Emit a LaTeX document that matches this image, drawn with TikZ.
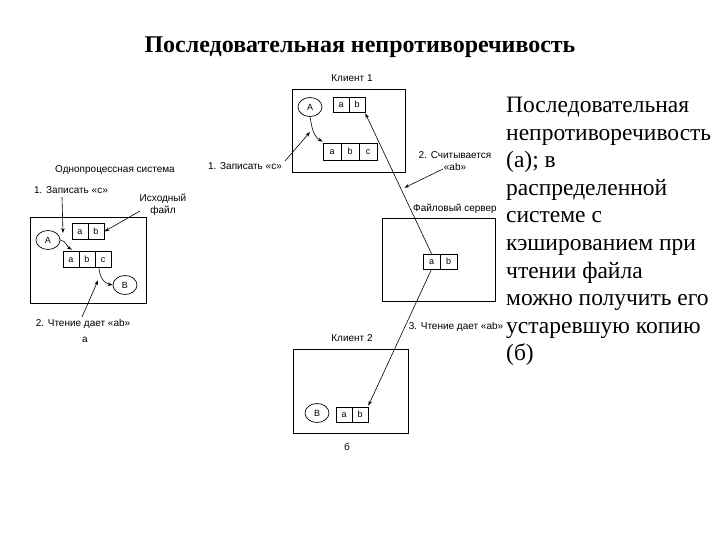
\documentclass[tikz,border=0pt]{standalone}
\usepackage{fontspec}
\setmainfont{Liberation Serif}
\newfontfamily\lsans{Liberation Sans}
\usetikzlibrary{shapes.geometric,arrows.meta,calc}
\tikzset{
  cell/.style={draw, line width=0.7pt, minimum width=16pt, minimum height=16pt, inner sep=0pt, text height=6.5pt, text depth=0pt, font=\lsans\fontsize{9}{10}\selectfont},
  proc/.style={draw, ellipse, line width=0.7pt, minimum width=24pt, minimum height=19pt, inner sep=0pt, font=\lsans\fontsize{9}{10}\selectfont},
  frame/.style={draw, line width=0.9pt},
  lbl/.style={font=\lsans\fontsize{10}{12}\selectfont, inner sep=0pt, align=center},
  arr/.style={line width=0.6pt, -{Stealth[length=5pt,width=3.5pt]}},
}
\begin{document}
\begin{tikzpicture}[x=1pt,y=-1pt]
\useasboundingbox (0,0) rectangle (720,540);
% title
\node[font=\bfseries\fontsize{24}{26}\selectfont] (title) at (360,47) {Последовательная непротиворечивость};
% right text
\node[anchor=north west, align=left, inner sep=0pt, font=\fontsize{23.5}{27.6}\selectfont] (desc) at (506,97)
 {Последовательная\\непротиворечивость\\(а); в\\распределенной\\системе с\\кэшированием при\\чтении файла\\можно получить его\\устаревшую копию\\(б)};

% ---------- left diagram (a)
\node[lbl] (sysL) at (115,170) {Однопроцессная система};
\node[frame, minimum width=116pt, minimum height=86pt, inner sep=0pt] (boxL) at (88,260) {};
\node[cell] (La) at (80,231.5) {a};
\node[cell] (Lb) at (96,231.5) {b};
\node[cell] (Lc1) at (71,259) {a};
\node[cell] (Lc2) at (87,259) {b};
\node[cell] (Lc3) at (103,259) {c};
\node[proc] (LA) at (48,240) {A};
\node[proc] (LB) at (125,285) {B};
\node[lbl] (wrL) at (71,190) {1. Записать «с»};
\node[lbl] (srcL) at (163,205) {Исходный\\файл};
\node[lbl] (rdL) at (83,324) {2. Чтение дает «ab»};
\node[lbl] (capA) at (85,340) {а};
\coordinate (wrLs) at (62,197);
\coordinate (wrLe) at (63,233);
\draw[arr] (wrLs) -- (wrLe);
\draw[arr] (LA.east) to[out=-10,in=150] ($(Lc1.north)+(1,-1)$);
\coordinate (srcLs) at (140,211);
\draw[arr] (srcLs) -- (Lb.east);
\draw[arr] ($(Lc3.south)+(-4,0)$) to[out=-90,in=170] (LB.west);
\coordinate (rdLs) at (82,317);
\draw[arr] (rdLs) -- ($(Lc3.south)+(-5,13)$);

% ---------- client 1
\node[lbl] (c1t) at (352,78) {Клиент 1};
\node[frame, minimum width=113pt, minimum height=83pt, inner sep=0pt] (C1) at (348.5,130.5) {};
\node[proc] (C1A) at (310,107) {A};
\node[cell, minimum height=15pt] (C1a) at (341,104.5) {a};
\node[cell, minimum height=15pt] (C1b) at (357,104.5) {b};
\node[cell, minimum width=18pt, minimum height=17pt] (C1c1) at (332,151.5) {a};
\node[cell, minimum width=18pt, minimum height=17pt] (C1c2) at (350,151.5) {b};
\node[cell, minimum width=18pt, minimum height=17pt] (C1c3) at (368,151.5) {c};
\draw[arr] (C1A.south) to[out=-80,in=150] ($(C1c1.north west)+(0,-1)$);
\node[lbl] (wr1) at (245,166) {1. Записать «с»};
\coordinate (wr1s) at (285,161);
\coordinate (wr1e) at (310,132);
\draw[arr] (wr1s) -- (wr1e);

% ---------- server
\node[lbl] (srvt) at (455,209) {Файловый сервер};
\node[frame, minimum width=113pt, minimum height=83pt, inner sep=0pt] (S) at (438.5,259.5) {};
\node[cell, minimum width=17pt, minimum height=15pt] (Sa) at (431.5,261.5) {a};
\node[cell, minimum width=17pt, minimum height=15pt] (Sb) at (448.5,261.5) {b};

% ---------- client 2
\node[lbl] (c2t) at (352,338) {Клиент 2};
\node[frame, minimum width=115pt, minimum height=84pt, inner sep=0pt] (C2) at (350.5,391) {};
\node[proc] (C2B) at (317,413) {B};
\node[cell, minimum height=15pt] (C2a) at (344,414.5) {a};
\node[cell, minimum height=15pt] (C2b) at (360,414.5) {b};
\node[lbl] (capB) at (347,447) {б};

% connectors
\draw[arr] (Sa.north) -- coordinate[pos=0.47] (mid1) ($(C1b.south east)+(0,1)$);
\node[lbl] (rd1) at (455,161) {2. Считывается\\«ab»};
\coordinate (rd1s) at (443,169);
\draw[arr] (rd1s) -- ($(mid1)+(4,0)$);
\draw[arr] (Sa.south) -- ($(C2b.north east)+(0,-1)$);
\node[lbl] (rd2) at (456,327) {3. Чтение дает «ab»};
\end{tikzpicture}
\end{document}
